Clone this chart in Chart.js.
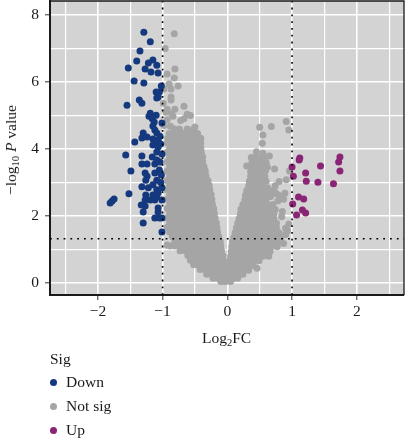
<!DOCTYPE html>
<html><head><meta charset="utf-8">
<script src="https://cdn.jsdelivr.net/npm/chart.js@4"></script>
<style>
html,body{margin:0;padding:0;background:#fff;width:405px;height:439px;overflow:hidden}
#wrap{position:relative;width:405px;height:439px;font-family:"Liberation Serif",serif;font-size:15.5px;color:#1a1a1a}
canvas{position:absolute;left:0;top:0}
.t{position:absolute;white-space:nowrap;line-height:16px}
.d{position:absolute;width:7px;height:7px;border-radius:50%}
sub{font-size:10.5px;line-height:0;vertical-align:-3px}
</style></head><body>
<div id="wrap">
<canvas id="c" width="405" height="439"></canvas>
<div class="t" style="left:202px;top:330px">Log<sub>2</sub>FC</div>
<div class="t" style="left:11px;top:150px;transform:translate(-50%,-50%) rotate(-90deg)">−log<sub>10</sub> <i>P</i> value</div>
<div class="t" style="left:50px;top:351px">Sig</div>
<div class="d" id="d0" style="left:50px;top:379px"></div><div class="t" style="left:66px;top:374px">Down</div>
<div class="d" id="d1" style="left:50px;top:403px"></div><div class="t" style="left:66px;top:398px">Not sig</div>
<div class="d" id="d2" style="left:50px;top:427px"></div><div class="t" style="left:66px;top:422px">Up</div>
</div>
<script>
const downPoints=[[-1.29,7.49],[-1.19,7.2],[-1.35,6.93],[-1.40,6.63],[-1.15,6.66],[-1.22,6.57],[-1.09,6.5],[-1.53,6.42],[-1.27,6.39],[-1.18,6.3],[-1.07,6.27],[-1.44,6.03],[-1.29,5.97],[-1.02,5.88],[-1.1,5.7],[-1.05,5.7],[-1.07,5.55],[-1.09,5.52],[-1.36,5.46],[-1.32,5.37],[-1.55,5.31],[-1.19,5.07],[-1.21,4.98],[-1.1,5.01],[-1.16,4.9],[-1.13,4.81],[-1.01,4.78],[-1.15,4.69],[-1.12,4.57],[-1.09,4.48],[-1.30,4.48],[-1.32,4.33],[-1.24,4.36],[-1.43,4.21],[-1.15,4.30],[-1.12,4.18],[-1.07,4.27],[-1.07,4.06],[-1.15,4.12],[-1.03,4.15],[-1.04,4.38],[-1.57,3.82],[-1.32,3.79],[-1.16,3.76],[-1.09,3.91],[-1.01,3.85],[-1.32,3.55],[-1.24,3.55],[-1.12,3.55],[-1.04,3.61],[-1.09,3.67],[-1.49,3.34],[-1.27,3.28],[-1.24,3.19],[-1.26,3.07],[-1.12,3.28],[-1.05,3.37],[-1.02,3.22],[-1.09,3.07],[-1.03,3.0],[-1.15,2.93],[-1.32,2.87],[-1.22,2.84],[-1.09,2.78],[-1.01,2.84],[-1.52,2.66],[-1.26,2.63],[-1.15,2.63],[-1.07,2.69],[-1.19,2.48],[-1.27,2.48],[-1.12,2.48],[-1.01,2.48],[-1.09,2.57],[-1.75,2.51],[-1.78,2.45],[-1.81,2.39],[-1.33,2.33],[-1.27,2.30],[-1.30,2.12],[-1.07,2.24],[-1.07,2.12],[-1.12,1.94],[-1.05,1.94],[-1.01,1.94],[-1.30,1.79],[-1.01,1.52]];
const upPoints=[[1.74,3.76],[1.72,3.61],[1.12,3.73],[1.11,3.67],[1.44,3.49],[1.74,3.34],[1.0,3.46],[1.21,3.28],[1.02,3.19],[1.22,3.04],[1.4,3.01],[1.64,2.96],[1.1,2.57],[1.18,2.51],[1.01,2.36],[1.16,2.18],[1.21,2.09],[1.07,2.03]];
const notSigScatter=[[-.82,7.44],[-.96,7.0],[-.93,6.24],[-.81,6.39],[-.82,6.12],[-.9,5.94],[-.76,5.88],[-.87,5.79],[-.98,5.79],[-.87,5.46],[-.87,5.55],[-.99,5.37],[-.67,5.28],[-.81,5.19],[-.93,5.19],[-.95,5.1],[-.62,5.04],[-.57,5.0],[-.84,4.98],[-.86,5.05],[-.67,4.9],[-.72,4.85],[-.93,4.87],[-.5,4.66],[-.88,4.68],[-.98,4.7],
[.5,4.65],[.68,4.67],[.91,4.82],[.95,4.57],[.55,4.42],[.54,4.17],[.45,3.92],[.55,3.87],[.65,3.79],[.37,3.75],[.30,3.49],[.73,3.40],[.59,3.35],[.96,3.34],[.91,3.08],[.80,3.03],[.74,2.90],[.89,2.68],[.80,2.61],[.67,2.58],[.87,2.50],[.72,2.78],[.85,2.13],[.84,1.98],[.95,1.76],[.90,1.63],[.93,1.56],[.84,1.40],[.87,1.18],[.77,1.08],[.64,.80],[.46,.44],[-.88,1.1],[-.93,1.13],[.62,2.84],[.66,2.7],[.76,2.66],[.6,2.5],[.78,2.45],[.9,1.45],[.82,1.25]];
const notSigLeftRows=[
[4.6,-.82,-.74,-.62,-.52],
[4.46,-.9,-.84,-.76,-.68,-.6,-.52,-.46],
[4.32,-.92,-.84,-.76,-.68,-.6,-.52,-.44,-.41],
[4.18,-.93,-.85,-.77,-.69,-.61,-.53,-.45,-.41],
[4.04,-.89,-.81,-.73,-.65,-.57,-.49,-.41],
[3.9,-.93,-.85,-.77,-.69,-.61,-.53,-.45,-.4],
[3.76,-.89,-.81,-.73,-.65,-.57,-.49,-.41,-.38],
[3.62,-.93,-.85,-.77,-.69,-.61,-.53,-.45,-.38],
[3.48,-.89,-.81,-.73,-.65,-.57,-.49,-.41,-.36],
[3.34,-.93,-.85,-.77,-.69,-.61,-.53,-.45,-.37,-.34],
[3.2,-.89,-.81,-.73,-.65,-.57,-.49,-.41,-.33],
[3.06,-.93,-.85,-.77,-.69,-.61,-.53,-.45,-.37,-.3],
[2.92,-.89,-.81,-.73,-.65,-.57,-.49,-.41,-.33,-.28],
[2.78,-.93,-.85,-.77,-.69,-.61,-.53,-.45,-.37,-.29,-.27],
[2.64,-.89,-.81,-.73,-.65,-.57,-.49,-.41,-.33,-.25],
[2.5,-.93,-.85,-.77,-.69,-.61,-.53,-.45,-.37,-.29,-.24],
[2.36,-.89,-.81,-.73,-.65,-.57,-.49,-.41,-.33,-.25,-.23],
[2.22,-.93,-.85,-.77,-.69,-.61,-.53,-.45,-.37,-.29,-.21],
[2.08,-.89,-.81,-.73,-.65,-.57,-.49,-.41,-.33,-.25,-.2],
[1.94,-.93,-.85,-.77,-.69,-.61,-.53,-.45,-.37,-.29,-.21,-.19],
[1.8,-.89,-.81,-.73,-.65,-.57,-.49,-.41,-.33,-.25,-.17],
[1.66,-.93,-.85,-.77,-.69,-.61,-.53,-.45,-.37,-.29,-.21,-.16],
[1.52,-.89,-.81,-.73,-.65,-.57,-.49,-.41,-.33,-.25,-.17,-.15],
[1.38,-.85,-.77,-.69,-.61,-.53,-.45,-.37,-.29,-.21,-.13],
[1.24,-.81,-.73,-.65,-.57,-.49,-.41,-.33,-.25,-.17,-.11],
[1.1,-.81,-.73,-.65,-.57,-.49,-.41,-.33,-.25,-.17,-.1],
[.96,-.73,-.65,-.57,-.49,-.41,-.33,-.25,-.17,-.09],
[.82,-.61,-.53,-.45,-.37,-.29,-.21,-.13,-.07],
[.68,-.57,-.49,-.41,-.33,-.25,-.17,-.09,-.06],
[.54,-.52,-.45,-.37,-.29,-.21,-.13,-.05],
[.4,-.42,-.35,-.27,-.19,-.11,-.03],
[.26,-.32,-.25,-.17,-.09,-.01],
[.14,-.22,-.15,-.07,.01,.08],
[.04,-.1,-.03,.05]];
const notSigRightRows=[
[3.74,.42,.5,.58],
[3.6,.38,.46,.54,.6],
[3.46,.38,.42,.5,.56,.62],
[3.32,.36,.44,.52,.55],
[3.18,.36,.42,.5,.54,.58],
[3.04,.34,.42,.5,.54,.6],
[2.9,.33,.38,.46,.54],
[2.76,.3,.38,.46,.54,.6],
[2.62,.28,.34,.42,.5,.56],
[2.48,.27,.34,.42,.5,.55],
[2.34,.24,.3,.38,.46,.54,.62,.7],
[2.2,.21,.28,.36,.44,.52,.6,.68,.74],
[2.06,.2,.26,.34,.42,.5,.58,.66,.72],
[1.92,.18,.24,.32,.4,.48,.56,.64,.72],
[1.78,.16,.22,.3,.38,.46,.54,.62,.7,.76],
[1.64,.14,.2,.28,.36,.44,.52,.6,.68,.76],
[1.5,.12,.18,.26,.34,.42,.5,.58,.66,.74,.8],
[1.36,.1,.16,.24,.32,.4,.48,.56,.64,.72,.8],
[1.22,.08,.14,.22,.3,.38,.46,.54,.62,.7,.78],
[1.08,.07,.12,.2,.28,.36,.44,.52,.6,.68],
[.94,.06,.1,.18,.26,.34,.42,.5,.58,.66],
[.8,.05,.08,.16,.24,.32,.4,.48,.55],
[.66,.04,.1,.18,.26,.34,.42,.49],
[.52,.03,.08,.16,.24,.32,.4],
[.38,.02,.1,.18,.26,.33],
[.26,.02,.08,.16,.24],
[.14,.1,.16]];
const xTickValues=[-2.5,-2,-1.5,-1,-.5,0,.5,1,1.5,2,2.5];
const yTickValues=[0,1,2,3,4,5,6,7,8];
const xLimits=[-2.74,2.73];
const yLimits=[-0.36,8.42];
const fcCut=1;
const pCut=1.32;
const colors={down:'#15397f',notSig:'#a5a5a5',up:'#8a2474',panel:'#d3d3d3',axis:'#1a1a1a'};

const pts=a=>a.map(p=>({x:p[0],y:p[1]}));
const rowsToPts=rows=>rows.flatMap(r=>r.slice(1).map(x=>({x,y:r[0]})));
const scatterDs=(data,c,order)=>({type:'scatter',data,order,backgroundColor:c,borderColor:c,borderWidth:0,pointRadius:3.5,pointHoverRadius:3.5});
const lineDs=data=>({type:'line',data,order:0,borderColor:'#000',borderWidth:1.6,borderDash:[1.8,5],pointRadius:0,fill:false,tension:0});
document.getElementById('d0').style.background=colors.down;
document.getElementById('d1').style.background=colors.notSig;
document.getElementById('d2').style.background=colors.up;
const panel={id:'panel',
 beforeDraw(ch){const a=ch.chartArea,g=ch.ctx;g.save();g.fillStyle=colors.panel;g.fillRect(a.left,a.top,a.right-a.left,a.bottom-a.top);g.restore();},
 afterDraw(ch){const a=ch.chartArea,g=ch.ctx;g.save();g.strokeStyle=colors.axis;g.lineWidth=1.3;g.beginPath();g.moveTo(a.left,a.top);g.lineTo(a.right,a.top);g.lineTo(a.right,a.bottom);g.stroke();g.restore();}};
const isInt=v=>Number.isInteger(v);
new Chart(document.getElementById('c'),{
 data:{datasets:[
  scatterDs([...rowsToPts(notSigLeftRows),...rowsToPts(notSigRightRows),...pts(notSigScatter)],colors.notSig,3),
  scatterDs(pts(downPoints),colors.down,2),
  scatterDs(pts(upPoints),colors.up,1),
  lineDs([{x:-fcCut,y:yLimits[0]},{x:-fcCut,y:yLimits[1]}]),
  lineDs([{x:fcCut,y:yLimits[0]},{x:fcCut,y:yLimits[1]}]),
  lineDs([{x:xLimits[0],y:pCut},{x:xLimits[1],y:pCut}])
 ]},
 plugins:[panel],
 options:{responsive:false,animation:false,events:[],
  layout:{autoPadding:false,padding:{left:0,top:1,right:1,bottom:114}},
  plugins:{legend:{display:false},tooltip:{enabled:false}},
  scales:{
   x:{type:'linear',min:xLimits[0],max:xLimits[1],
    afterBuildTicks:s=>{s.ticks=xTickValues.map(value=>({value}));},
    afterFit:s=>{s.height=30;s.paddingLeft=0;s.paddingRight=0;},
    border:{color:colors.axis,width:2},
    grid:{color:'#fff',lineWidth:c=>isInt(c.tick?.value)?1.6:1.2,tickLength:5,tickColor:c=>isInt(c.tick?.value)?'#333':'transparent',tickWidth:1},
    ticks:{autoSkip:false,maxRotation:0,color:'#1a1a1a',padding:3,font:{family:'"Liberation Serif"',size:15.5},callback:v=>isInt(v)?String(v).replace('-','−'):''}},
   y:{type:'linear',min:yLimits[0],max:yLimits[1],
    afterBuildTicks:s=>{s.ticks=yTickValues.map(value=>({value}));},
    afterFit:s=>{s.width=50;s.paddingTop=0;s.paddingBottom=0;},
    border:{color:colors.axis,width:2},
    grid:{color:'#fff',lineWidth:c=>c.tick&&c.tick.value%2===0?1.6:1.2,tickLength:5,tickColor:c=>c.tick&&c.tick.value%2===0?'#333':'transparent',tickWidth:1},
    ticks:{autoSkip:false,color:'#1a1a1a',padding:6,font:{family:'"Liberation Serif"',size:15.5},callback:v=>v%2===0?String(v):''}}
  }}
});
</script>
</body></html>
